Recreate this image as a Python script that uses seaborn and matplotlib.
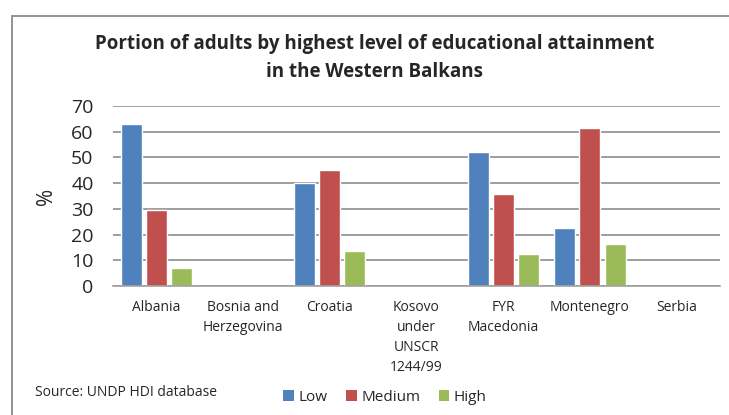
import numpy as np
import pandas as pd
import seaborn as sns
import matplotlib.pyplot as plt
from matplotlib.patches import Rectangle, Patch

countries = ["Albania", "Bosnia and\nHerzegovina", "Croatia", "Kosovo\nunder\nUNSCR\n1244/99",
             "FYR\nMacedonia", "Montenegro", "Serbia"]
low = [63.0, np.nan, 40.1, np.nan, 52.2, 22.6, np.nan]
medium = [29.7, np.nan, 45.1, np.nan, 35.6, 61.5, np.nan]
high = [7.1, np.nan, 13.6, np.nan, 12.3, 16.2, np.nan]
levels = ["Low", "Medium", "High"]
colors = ["#4F81BD", "#C0504D", "#9BBB59"]

df = pd.DataFrame({"country": countries * 3,
                   "level": [levels[0]] * 7 + [levels[1]] * 7 + [levels[2]] * 7,
                   "value": low + medium + high})

sns.set_style("white")
plt.rcParams['font.family'] = ['Open Sans', 'DejaVu Sans']

fig = plt.figure(figsize=(7.29, 4.15), dpi=100)
ax = fig.add_axes([113/729, 1-286/415, (720-113)/729, 180/415])

sns.barplot(data=df, x="country", y="value", hue="level", order=countries,
            hue_order=levels, palette=colors, width=0.87, gap=0.17, ax=ax,
            legend=False, saturation=1, errorbar=None)

ax.set_xlim(-0.5, 6.5)
ax.set_ylim(0, 70)
ax.set_yticks(range(0, 71, 10))
ax.yaxis.grid(True, color="#8c8c8c", linewidth=1.2)
ax.set_axisbelow(True)
for s in ["left", "right", "top"]:
    ax.spines[s].set_visible(False)
ax.spines["bottom"].set_color("#a0a0a0")
ax.spines["bottom"].set_linewidth(1.2)
ax.tick_params(axis="y", labelsize=14, length=0, pad=14)
ax.tick_params(axis="x", labelsize=10, length=0, pad=10)
for lab in ax.get_xticklabels():
    lab.set_linespacing(1.45)
ax.set_xlabel("")
ax.set_ylabel("%", fontsize=15, labelpad=10)

fig.text(375/729, 1-58/415, "Portion of adults by highest level of educational attainment\nin the Western Balkans",
         ha="center", va="center", fontsize=13.5, fontweight="bold", linespacing=1.5)

fig.text(35/729, 1-392/415, "Source: UNDP HDI database", ha="left", va="center", fontsize=10)

# border
fig.add_artist(Rectangle((12/729, -0.1), 1, 1 - 16/415 + 0.1, transform=fig.transFigure,
                         fill=False, edgecolor="#8a8a8a", linewidth=1.3))

handles = [Patch(facecolor=c, edgecolor="none") for c in colors]
fig.legend(handles, levels, loc="center", bbox_to_anchor=(385/729, 1-397/415), ncol=3,
           frameon=False, fontsize=11, handlelength=0.7, handleheight=0.7,
           handletextpad=0.3, columnspacing=1.2)

fig.savefig("out.png", dpi=100)
